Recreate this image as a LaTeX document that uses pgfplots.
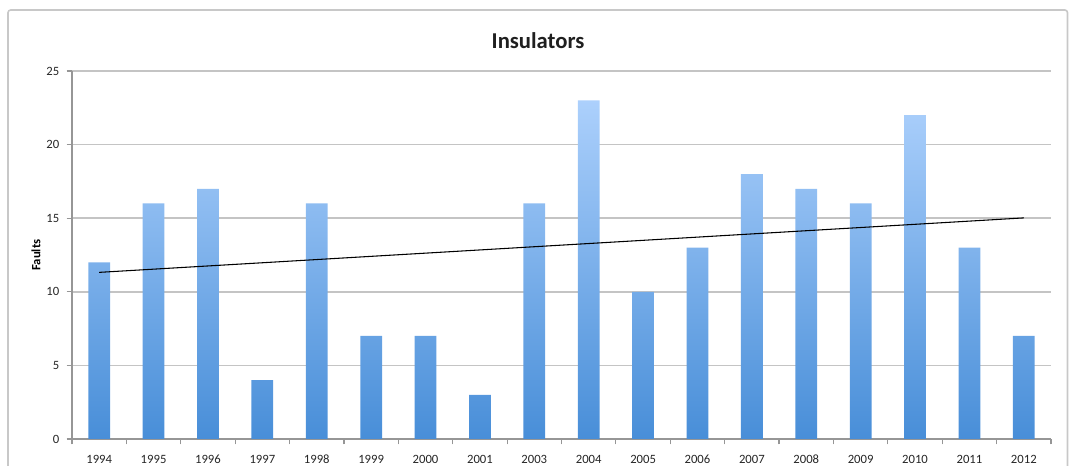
\documentclass[border=0pt]{standalone}
\usepackage{pgfplots}
\pgfplotsset{compat=1.18}
\usepackage{fontspec}
\setmainfont{Carlito}
\definecolor{gridgray}{RGB}{196,196,196}
\definecolor{axisgray}{RGB}{150,150,150}
\definecolor{framegray}{RGB}{200,200,200}
\definecolor{bartop}{RGB}{172,208,252}
\definecolor{barbot}{RGB}{72,142,216}
\begin{document}
\begin{tikzpicture}[x=0.75pt,y=0.75pt]
\path[use as bounding box] (0,0) rectangle (1069,466);
\draw[framegray, line width=1.2pt, rounded corners=2pt] (8,-20) -- (8,456) -- (1067.5,456) -- (1067.5,-20);
\node[font=\bfseries\fontsize{17}{20}\selectfont, text=black!88] at (538,425) {Insulators};
\begin{axis}[
  at={(54pt,20.25pt)}, anchor=south west,
  scale only axis, width=734.25pt, height=276pt,
  xmin=-0.5, xmax=17.5, ymin=0, ymax=25,
  axis x line*=bottom, axis y line*=left,
  axis line style={axisgray, line width=0.9pt, -},
  xtick={0,...,17},
  xticklabels={1994,1995,1996,1997,1998,1999,2000,2001,2003,2004,2005,2006,2007,2008,2009,2010,2011,2012},
  minor xtick={-0.5,0.5,...,17.5},
  ytick={0,5,10,15,20,25},
  tick align=outside,
  x tick style={draw=none},
  minor x tick style={draw=axisgray, line width=0.9pt},
  y tick style={draw=axisgray, line width=0.9pt},
  minor tick length=4pt, major tick length=4pt,
  ymajorgrids, grid style={gridgray, line width=1.1pt},
  tick label style={font=\fontsize{9.5}{11}\selectfont, text=black!85},
  /pgf/number format/assume math mode=true,
  xticklabel style={anchor=north, text height=1.6ex, text depth=0.2ex, yshift=-3pt},
  yticklabel style={xshift=-2pt},
  ylabel={Faults},
  ylabel style={font=\bfseries\fontsize{9.5}{11}\selectfont, at={(axis description cs:0,0.5)}, anchor=center, yshift=27pt},
  clip=false,
]
\addplot[ybar, bar width=0.4, draw=none, top color=bartop, bottom color=barbot] coordinates {
(0,12) (1,16) (2,17) (3,4) (4,16) (5,7) (6,7) (7,3) (8,16) (9,23) (10,10) (11,13) (12,18) (13,17) (14,16) (15,22) (16,13) (17,7)
};
\addplot[black, line width=0.8pt] coordinates {(0,11.32) (17,15.02)};
\end{axis}
\end{tikzpicture}
\end{document}
